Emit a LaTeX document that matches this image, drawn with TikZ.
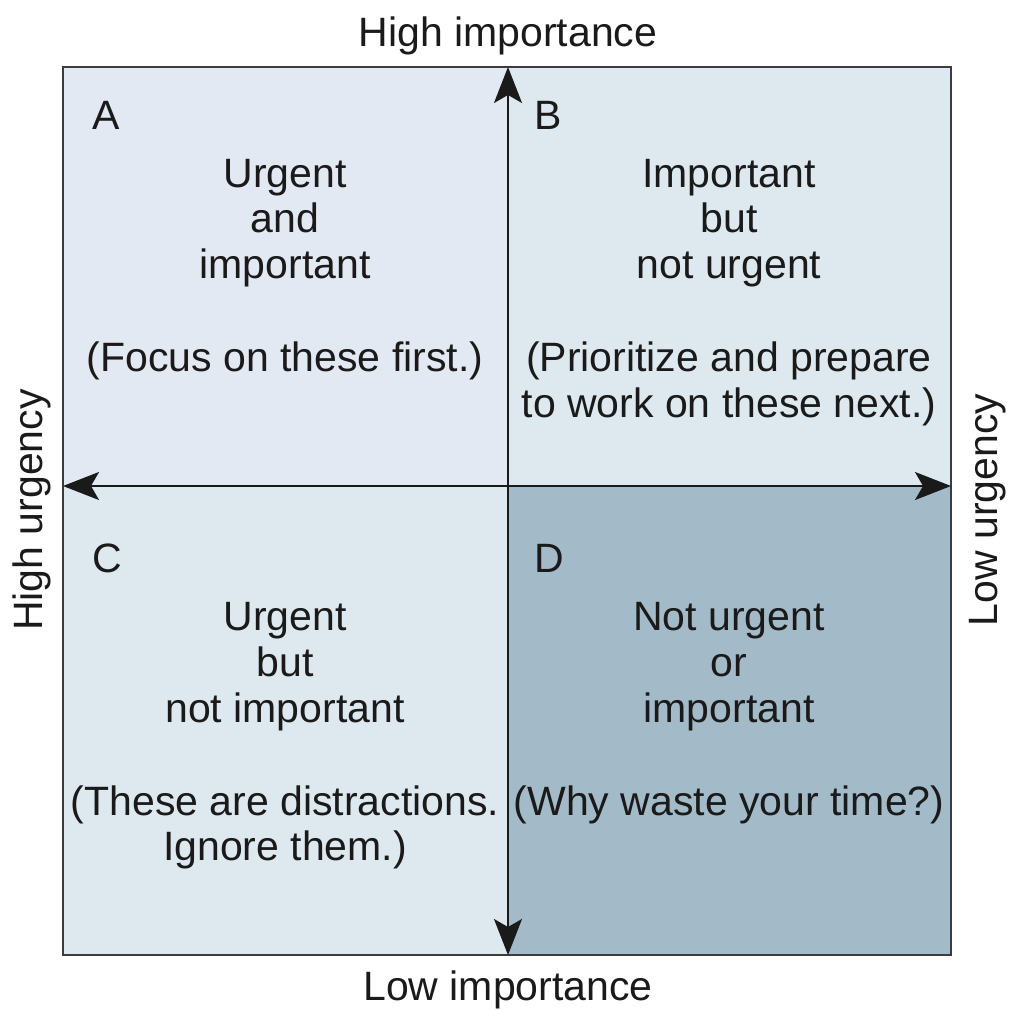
\documentclass[tikz,border=0pt]{standalone}
\usepackage{fontspec}
\setmainfont{Liberation Sans}
\usetikzlibrary{arrows.meta}
\definecolor{qa}{HTML}{E3E9F2}
\definecolor{qb}{HTML}{DDE9EE}
\definecolor{qd}{HTML}{A3BAC8}
\definecolor{ink}{HTML}{1A1A1A}
\begin{document}
\begin{tikzpicture}[x=0.75pt,y=-0.75pt,
  txt/.style={font=\fontsize{30.75}{34.5}\selectfont, text=ink, inner sep=0pt, anchor=base},
  block/.style={txt, align=center, anchor=base},
  axis/.style={draw=ink, line width=1.5pt, {Stealth[length=27pt,width=21pt,inset=6pt]}-{Stealth[length=27pt,width=21pt,inset=6pt]}}]
  \useasboundingbox (0,0) rectangle (1008,1010);
  % quadrant fills
  \fill[qa] (63,67) rectangle (508,486);
  \fill[qb] (508,67) rectangle (951,486);
  \fill[qb] (63,486) rectangle (508,955);
  \fill[qd] (508,486) rectangle (951,955);
  \draw[draw=ink!85, line width=1.6pt] (63,67) rectangle (951,955);
  % axis end points
  \coordinate (top) at (508,67);
  \coordinate (bot) at (508,955);
  \coordinate (lft) at (63,486);
  \coordinate (rgt) at (951,486);
  \draw[axis] (bot) -- (top);
  \draw[axis] (lft) -- (rgt);
  % axis labels
  \node[txt] (hi) at (508,46) {High importance};
  \node[txt] (lo) at (508,1000) {Low importance};
  \node[txt, rotate=90] (hu) at (42,510) {High urgency};
  \node[txt, rotate=90] (lu) at (997,510) {Low urgency};
  % quadrant letters
  \node[txt, anchor=base west] (la) at (92,129) {A};
  \node[txt, anchor=base west] (lb) at (534,129) {B};
  \node[txt, anchor=base west] (lc) at (92,572) {C};
  \node[txt, anchor=base west] (ld) at (534,572) {D};
  % quadrant texts
  \node[txt] (a1) at (285,187) {Urgent};
  \node[txt] (a2) at (285,232) {and};
  \node[txt] (a3) at (285,278) {important};
  \node[txt] (a4) at (285,371) {(Focus on these first.)};
  \node[txt] (b1) at (729,187) {Important};
  \node[txt] (b2) at (729,232) {but};
  \node[txt] (b3) at (729,278) {not urgent};
  \node[txt] (b4) at (729,371) {(Prioritize and prepare};
  \node[txt] (b5) at (729,417) {to work on these next.)};
  \node[txt] (c1) at (285,630) {Urgent};
  \node[txt] (c2) at (285,676) {but};
  \node[txt] (c3) at (285,722) {not important};
  \node[txt] (c4) at (285,815) {(These are distractions.};
  \node[txt] (c5) at (285,860) {Ignore them.)};
  \node[txt] (d1) at (729,630) {Not urgent};
  \node[txt] (d2) at (729,676) {or};
  \node[txt] (d3) at (729,722) {important};
  \node[txt] (d4) at (729,815) {(Why waste your time?)};
\end{tikzpicture}
\end{document}
